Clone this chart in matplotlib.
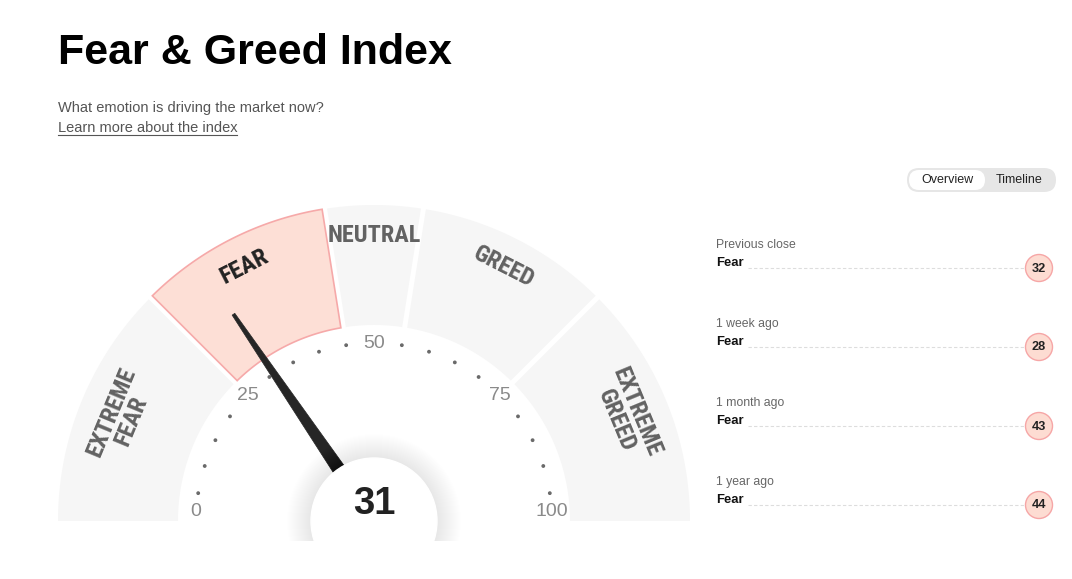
import numpy as np
import matplotlib
matplotlib.use('Agg')
import matplotlib.pyplot as plt
from matplotlib.patches import Polygon, Circle, FancyBboxPatch
from matplotlib import font_manager as fm

# data
score = 31
zone_bounds = [0, 25, 45, 55, 75, 100]
zone_names = ['EXTREME\nFEAR', 'FEAR', 'NEUTRAL', 'GREED', 'EXTREME\nGREED']
scale_labels = [0, 25, 50, 75, 100]
scale_dots = [5, 10, 15, 20, 30, 35, 40, 45, 55, 60, 65, 70, 80, 85, 90, 95]
hist_when = ['Previous close', '1 week ago', '1 month ago', '1 year ago']
hist_rating = ['Fear', 'Fear', 'Fear', 'Fear']
hist_value = [32, 28, 43, 44]

names = {f.name for f in fm.fontManager.ttflist}
cond = 'DejaVu Sans'
for n in ['DejaVu Sans Condensed', 'Liberation Sans Narrow', 'Roboto Condensed', 'Open Sans Condensed']:
    if n in names:
        cond = n
        break
sans = 'Liberation Sans'

W, H = 1072, 579
fig = plt.figure(figsize=(W / 100, H / 100), dpi=100)
ax = fig.add_axes([0, 0, 1, 1])
ax.set_xlim(0, W)
ax.set_ylim(H, 0)
ax.axis('off')

cx, cy = 374, 521
R_out, R_in = 316, 196
gap = 2.5


def ang(v):
    return np.pi * (1 - v / 100.0)


def pt(r, a):
    return cx + r * np.cos(a), cy - r * np.sin(a)


# gauge zones
for i, name in enumerate(zone_names):
    lo, hi = zone_bounds[i], zone_bounds[i + 1]
    a1, a2 = ang(lo), ang(hi)
    d_o = np.arcsin(gap / R_out)
    d_i = np.arcsin(gap / R_in)
    o1 = a1 - (d_o if lo > 0 else 0)
    o2 = a2 + (d_o if hi < 100 else 0)
    i1 = a1 - (d_i if lo > 0 else 0)
    i2 = a2 + (d_i if hi < 100 else 0)
    ta = np.linspace(o1, o2, 80)
    tb = np.linspace(i2, i1, 80)
    xs = np.concatenate([cx + R_out * np.cos(ta), cx + R_in * np.cos(tb)])
    ys = np.concatenate([cy - R_out * np.sin(ta), cy - R_in * np.sin(tb)])
    active = lo <= score < hi
    ax.add_patch(Polygon(np.column_stack([xs, ys]), closed=True,
                         facecolor='#fddfd6' if active else '#f6f6f6',
                         edgecolor='#f6a9a9' if active else 'none',
                         lw=1.2, zorder=1))
    am = ang((lo + hi) / 2)
    tx, ty = pt(273 if '\n' in name else 285, am)
    ax.text(tx, ty, name, rotation=np.degrees(am) - 90, ha='center', va='center',
            family=cond, fontweight='bold', fontsize=17.5, linespacing=0.92,
            color='#222222' if active else '#626262', rotation_mode='anchor', zorder=3)

# scale
for v in scale_dots:
    x, y = pt(178, ang(v))
    ax.add_patch(Circle((x, y), 1.2, color='#6a6a6a', zorder=2))
for v in scale_labels:
    x, y = pt(178, ang(v))
    y = min(y, cy - 9)
    ax.text(x, y, str(v), ha='center', va='center', family=sans, fontsize=14,
            color='#8a8a8a', zorder=2)

# needle
a = ang(score)
ux, uy = np.cos(a), -np.sin(a)
px, py = np.sin(a), np.cos(a)
b0, b1 = 40, 250
w0, w1 = 7, 1.6
needle = [(cx + b0 * ux + w0 * px, cy + b0 * uy + w0 * py),
          (cx + b1 * ux + w1 * px, cy + b1 * uy + w1 * py),
          (cx + b1 * ux - w1 * px, cy + b1 * uy - w1 * py),
          (cx + b0 * ux - w0 * px, cy + b0 * uy - w0 * py)]
ax.add_patch(Polygon(needle, closed=True, facecolor='#262626', edgecolor='#262626',
                     lw=0.5, joinstyle='round', zorder=4))

# centre disc with soft shadow
for k in range(24, 0, -1):
    ax.add_patch(Circle((cx, cy), 63 + k, color='#000000', alpha=0.0025, lw=0, zorder=5))
ax.add_patch(Circle((cx, cy), 63, color='white', zorder=6))
ax.add_patch(plt.Rectangle((0, 541), W, 40, color='white', lw=0, zorder=6.5))
ax.text(cx, 504, str(score), ha='center', va='center', family=sans, fontweight='bold',
        fontsize=27.5, color='#222222', zorder=7)

# header
ax.text(58, 53, 'Fear & Greed Index', family=sans, fontweight='bold', fontsize=31,
        va='center', ha='left', color='black')
ax.text(58, 108, 'What emotion is driving the market now?', family=sans, fontsize=10.5,
        va='center', ha='left', color='#555555')
ax.text(58, 128, 'Learn more about the index', family=sans, fontsize=10.5,
        va='center', ha='left', color='#555555')
ax.plot([58, 237], [135, 135], color='#555555', lw=0.8)

# toggle
ax.add_patch(FancyBboxPatch((907, 168), 149, 24, boxstyle='round,pad=0,rounding_size=12',
                            facecolor='#e6e6e6', edgecolor='none'))
ax.add_patch(FancyBboxPatch((909, 170), 76, 20, boxstyle='round,pad=0,rounding_size=10',
                            facecolor='white', edgecolor='none'))
ax.text(947, 180, 'Overview', family=sans, fontsize=9, ha='center', va='center', color='#222222')
ax.text(1019, 180, 'Timeline', family=sans, fontsize=9, ha='center', va='center', color='#222222')

# history rows
for i, (w, r, v) in enumerate(zip(hist_when, hist_rating, hist_value)):
    y0 = 245 + 79 * i
    ax.text(716, y0, w, family=sans, fontsize=8.8, ha='left', va='center', color='#666666')
    ax.text(716, y0 + 18, r, family=sans, fontsize=9.4, fontweight='bold', ha='left',
            va='center', color='#111111')
    ax.plot([748, 1025], [y0 + 23, y0 + 23], color='#dddddd', lw=0.8, ls=(0, (3, 2)))
    ax.add_patch(Circle((1039, y0 + 23), 13.5, facecolor='#fddcd2', edgecolor='#f6a6a6', lw=1))
    ax.text(1039, y0 + 23.5, str(v), family=sans, fontsize=9.2, fontweight='bold',
            ha='center', va='center', color='#222222')

ax.text(1052, 552, 'Last updated May 5 at 9:29 PM EDT', family=sans, fontsize=8.8,
        ha='right', va='center', color='#555555')

fig.savefig('out.png', dpi=100)
